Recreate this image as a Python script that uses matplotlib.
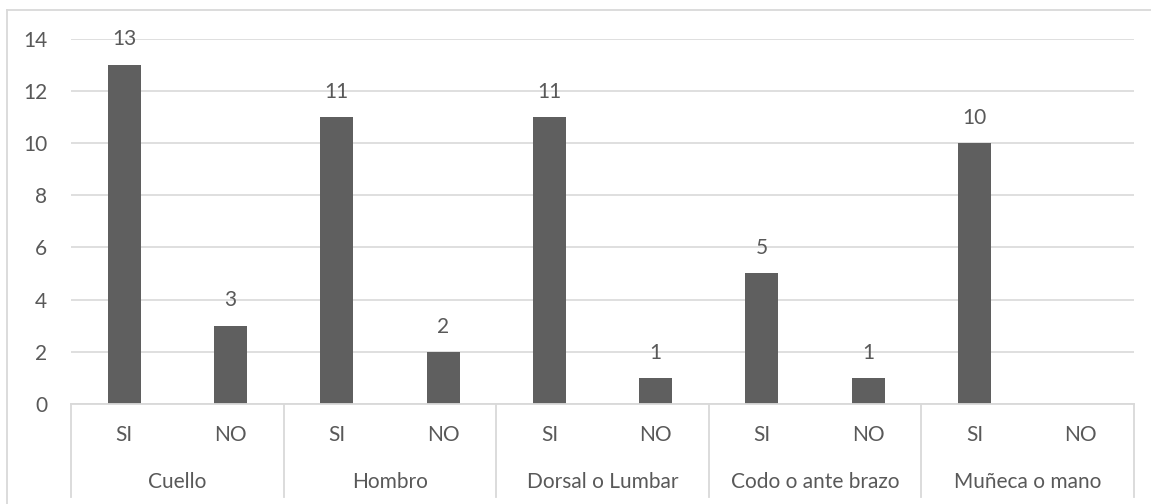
import matplotlib
matplotlib.use("Agg")
import matplotlib.pyplot as plt
from matplotlib.lines import Line2D
from matplotlib.transforms import blended_transform_factory

groups = ["Cuello", "Hombro", "Dorsal o Lumbar", "Codo o ante brazo", "Muñeca o mano"]
answers = ["SI", "NO"]
values = [13, 3, 11, 2, 11, 1, 5, 1, 10, 0]
y_ticks = [0, 2, 4, 6, 8, 10, 12, 14]

W, H, DPI = 1151, 504, 100
TEXT = "#595959"
GRID = "#d9d9d9"
BAR = "#5f5f5f"
FONT = ["Lato", "DejaVu Sans"]
FS = 15

plt.rcParams["font.family"] = FONT

fig = plt.figure(figsize=(W / DPI, H / DPI), dpi=DPI)
left_px, right_px, top_px, bottom_px = 71, 1134, 38.5, 404
ax = fig.add_axes([left_px / W, 1 - bottom_px / H,
                   (right_px - left_px) / W, (bottom_px - top_px) / H])

n = len(values)
x = list(range(n))
ax.bar(x, values, width=0.31, color=BAR, zorder=3)
ax.set_xlim(-0.5, n - 0.5)
ax.set_ylim(0, 14)
ax.set_yticks(y_ticks)
ax.set_yticklabels([str(t) for t in y_ticks])
ax.tick_params(axis="y", length=0, pad=17, labelsize=FS, labelcolor=TEXT)
ax.set_xticks([])
for s in ax.spines.values():
    s.set_visible(False)
ax.grid(axis="y", color=GRID, linewidth=1.2, zorder=0)
ax.set_axisbelow(True)

# value labels above bars
for xi, v in zip(x, values):
    if v > 0:
        ax.annotate(str(v), (xi, v), xytext=(0, 11), textcoords="offset points",
                    ha="center", va="bottom", fontsize=FS, color=TEXT)

# two-level category axis
tr = blended_transform_factory(ax.transData, ax.transAxes)
span = bottom_px - top_px
def yfrac(py):
    return (bottom_px - py) / span

ax.plot([-0.5, n - 0.5], [0, 0], transform=tr, color=GRID, lw=1.3, clip_on=False, zorder=4)
for b in range(len(groups) + 1):
    xb = -0.5 + 2 * b
    ax.plot([xb, xb], [0, yfrac(497)], transform=tr, color=GRID, lw=1.3, clip_on=False)
for i in range(n):
    ax.text(i, yfrac(435), answers[i % 2], transform=tr, ha="center", va="center",
            fontsize=FS, color=TEXT)
for g, name in enumerate(groups):
    ax.text(2 * g + 0.5, yfrac(482), name, transform=tr, ha="center", va="center",
            fontsize=FS, color=TEXT)

# chart frame
fig.add_artist(Line2D([7 / W, 7 / W], [0, 1 - 10 / H], color=GRID, lw=1.3))
fig.add_artist(Line2D([7 / W, 1], [1 - 10 / H, 1 - 10 / H], color=GRID, lw=1.3))

fig.savefig("out.png", dpi=DPI)
